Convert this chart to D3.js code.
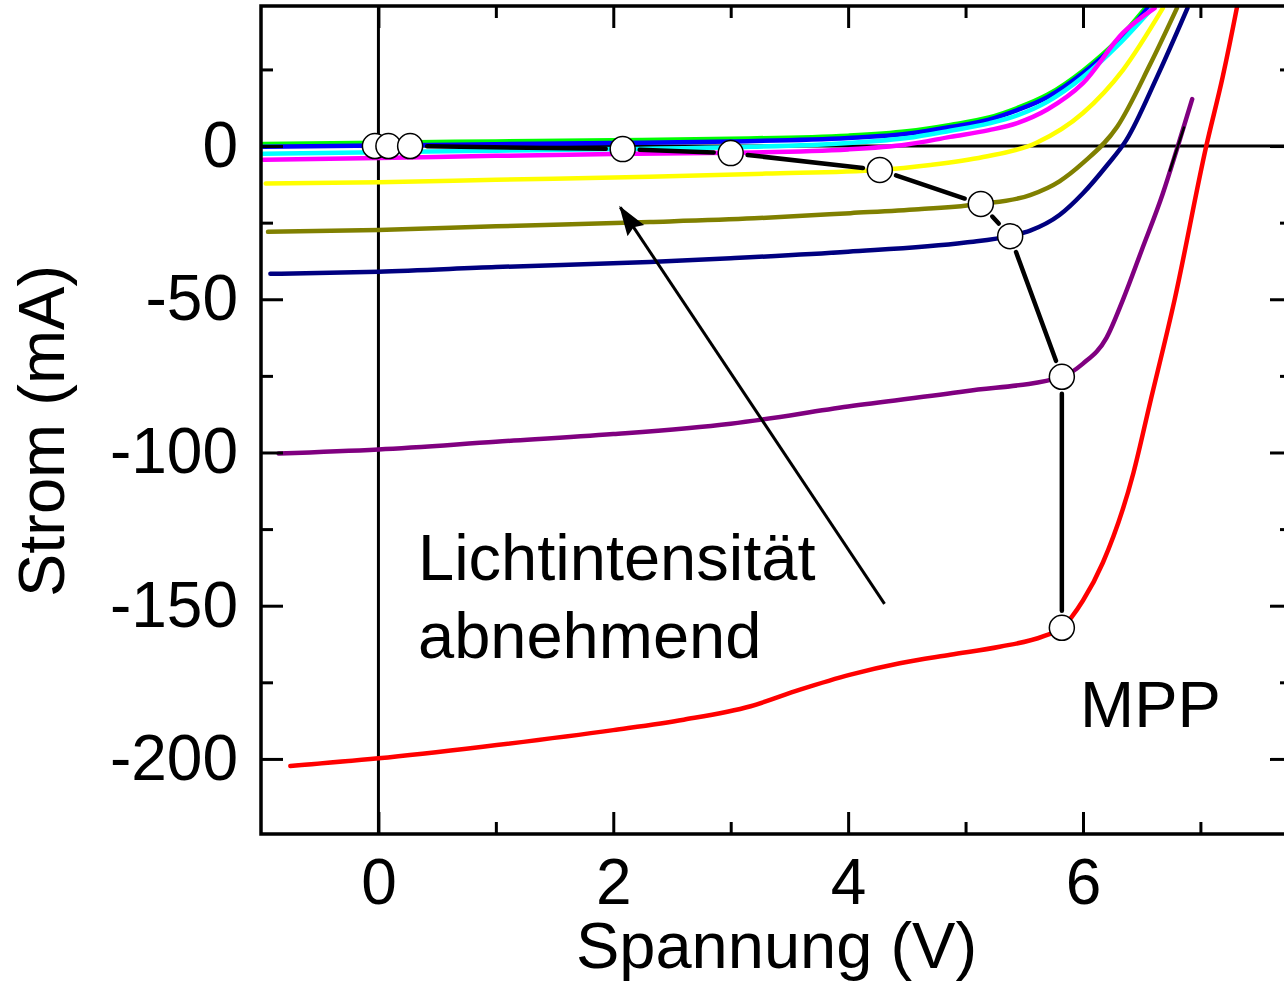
<!DOCTYPE html>
<html>
<head>
<meta charset="utf-8">
<script src="https://cdn.jsdelivr.net/npm/d3@7"></script>
<style>
  body { margin: 0; background: #fff; }
  svg { display: block; font-family: Arial, "Liberation Sans", sans-serif; }
</style>
</head>
<body>
<svg id="chart" width="1284" height="984"></svg>
<script>
// Kennlinien [Spannung V, Strom mA]
const gruen = [[-0.98,0.7],[0,1.1],[1,1.5],[2,1.9],[3,2.4],[4,3.4],[4.5,4.8],[4.87,6.9],[5.2,9.3],[5.44,12.4],[5.7,16.8],[6.0,24.6],[6.29,34.4],[6.53,45]];
const blau = [[-0.98,-0.2],[0,0.2],[1,0.6],[2,1.0],[3,1.5],[4,2.6],[4.5,4.0],[4.87,6.2],[5.2,8.6],[5.44,11.7],[5.7,16.0],[6.0,23.8],[6.29,33.6],[6.55,45]];
const cyan = [[-0.98,-2.5],[0,-2.0],[1,-1.5],[2,-1.0],[3,-0.4],[4,1.0],[4.5,2.6],[4.87,5.0],[5.2,7.4],[5.44,10.0],[5.7,14.5],[6.0,22.5],[6.3,33.0],[6.59,45]];
const magenta = [[-0.98,-4.5],[0,-3.9],[1,-3.2],[2,-2.6],[3,-2.2],[4,-1.1],[4.5,0.5],[4.87,3.0],[5.2,5.2],[5.44,7.5],[5.7,12.0],[6.0,20.5],[6.34,36.9],[6.61,45]];
const gelb = [[-0.96,-12.2],[0,-11.8],[1,-11.0],[2.31,-10.0],[3.3,-9.0],[4.27,-7.8],[4.7,-6.2],[5.15,-3.6],[5.6,1.0],[6.0,10.8],[6.34,24.8],[6.68,45]];
const oliv = [[-0.94,-28.0],[0,-27.4],[1,-26.2],[2.31,-24.8],[3.2,-23.6],[4.02,-21.9],[4.6,-20.6],[5.13,-18.9],[5.55,-16.0],[5.8,-11.5],[6.0,-5.5],[6.29,6.2],[6.57,26.5],[6.8,45]];
const navy = [[-0.92,-41.7],[0,-41.0],[1,-39.5],[2.31,-37.8],[3,-36.6],[4,-34.5],[5,-31.5],[5.38,-29.4],[5.55,-27.6],[5.8,-22.5],[6.0,-15.4],[6.2,-6.5],[6.37,2.0],[6.63,22.5],[6.89,45]];
const lila = [[-0.85,-100.3],[0,-99.0],[1,-96.5],[2,-94.0],[3,-90.6],[4,-85.0],[5,-80.0],[5.82,-75.3],[6.0,-71.0],[6.2,-62.6],[6.34,-50.2],[6.5,-34.0],[6.68,-15.5],[6.8,-1.0],[6.93,15.3]];
const schwarz = [[6.74,-8.0],[6.80,-1.0],[6.86,6.0]];
const rot = [[-0.75,-202.3],[0,-199.8],[0.89,-196.0],[2,-190.6],[2.6,-187.2],[3.17,-182.8],[3.59,-177.4],[4.02,-172.5],[4.44,-168.8],[4.87,-166.0],[5.29,-163.4],[5.66,-160.0],[5.82,-157.2],[6.0,-148.3],[6.17,-135.9],[6.43,-106.6],[6.57,-84.0],[6.78,-50.2],[7.05,0],[7.19,22.6],[7.31,45],[7.36,55]];

const kurven = [gruen, blau, cyan, magenta, gelb, oliv, navy, lila, schwarz, rot];
const farben = ["#00ff00", "#0000ff", "#00ffff", "#ff00ff", "#ffff00", "#808000", "#000080", "#800080", "#000000", "#ff0000"];

// Maximum Power Points
const mppU = [-0.03, 0.085, 0.27, 2.08, 3.0, 4.27, 5.13, 5.38, 5.82, 5.82];
const mppI = [0, 0, 0, -1.0, -2.3, -7.8, -18.9, -29.4, -75.3, -157.2];

const xTicks = [0, 2, 4, 6];
const xMinor = [1, 3, 5, 7];
const yTicks = [0, -50, -100, -150, -200];
const yMinor = [25, -25, -75, -125, -175];

// Pfeil "Lichtintensität abnehmend"
const pfeil = [[4.31, -149.4], [2.06, -20.0]];

const mLeft = 261, mTop = 6, mRight = 1292, mBottom = 834;
const x = d3.scaleLinear().domain([-1, 7.78]).range([mLeft, mRight]);
const y = d3.scaleLinear().domain([-224.5, 45.7]).range([mBottom, mTop]);

const svg = d3.select("#chart");

const defs = svg.append("defs");
defs.append("clipPath").attr("id", "plot")
  .append("rect").attr("x", mLeft).attr("y", mTop)
  .attr("width", mRight - mLeft).attr("height", mBottom - mTop);

defs.append("marker")
  .attr("id", "spitze")
  .attr("markerUnits", "userSpaceOnUse")
  .attr("viewBox", "0 0 30 22")
  .attr("refX", 28).attr("refY", 11)
  .attr("markerWidth", 30).attr("markerHeight", 22)
  .attr("orient", "auto")
  .append("path").attr("d", "M0,1 L30,11 L0,21 L4,11 Z").attr("fill", "#000");

const plot = svg.append("g").attr("clip-path", "url(#plot)");

// Nulllinien
plot.append("line")
  .attr("x1", mLeft).attr("x2", mRight).attr("y1", y(0)).attr("y2", y(0))
  .attr("stroke", "#000").attr("stroke-width", 3);
plot.append("line")
  .attr("x1", x(0)).attr("x2", x(0)).attr("y1", mTop).attr("y2", mBottom)
  .attr("stroke", "#000").attr("stroke-width", 3);

const line = d3.line()
  .x(d => x(d[0]))
  .y(d => y(d[1]))
  .curve(d3.curveMonotoneX);

plot.selectAll("path.kurve")
  .data(kurven)
  .join("path")
  .attr("class", "kurve")
  .attr("d", line)
  .attr("fill", "none")
  .attr("stroke", (d, i) => farben[i])
  .attr("stroke-width", (d, i) => farben[i] === "#000000" ? 2.5 : 4.5)
  .attr("stroke-linecap", "round")
  .attr("stroke-linejoin", "round");

// MPP-Verbindung, mit Abstand zu den Kreisen
const r = 12.5, luecke = 17;
const mppPx = mppU.map((u, i) => [x(u), y(mppI[i])]);
for (let i = 0; i < mppPx.length - 1; i++) {
  const a = mppPx[i], b = mppPx[i + 1];
  const dx = b[0] - a[0], dy = b[1] - a[1];
  const len = Math.hypot(dx, dy);
  if (len <= 2 * luecke + 2) continue;
  const ux = dx / len, uy = dy / len;
  plot.append("line")
    .attr("x1", a[0] + ux * luecke).attr("y1", a[1] + uy * luecke)
    .attr("x2", b[0] - ux * luecke).attr("y2", b[1] - uy * luecke)
    .attr("stroke", "#000").attr("stroke-width", 4.5)
    .attr("stroke-linecap", "round");
}

plot.selectAll("circle.mpp")
  .data(mppU)
  .join("circle")
  .attr("class", "mpp")
  .attr("cx", d => x(d))
  .attr("cy", (d, i) => y(mppI[i]))
  .attr("r", r)
  .attr("fill", "#fff")
  .attr("stroke", "#000")
  .attr("stroke-width", 1.5);

// Pfeil
svg.append("line")
  .attr("x1", x(pfeil[0][0])).attr("y1", y(pfeil[0][1]))
  .attr("x2", x(pfeil[1][0])).attr("y2", y(pfeil[1][1]))
  .attr("stroke", "#000").attr("stroke-width", 3)
  .attr("marker-end", "url(#spitze)");

// Beschriftungen
const txt = svg.append("g").attr("font-size", 65).attr("fill", "#000");
txt.append("text").attr("x", 418).attr("y", 580).text("Lichtintensität");
txt.append("text").attr("x", 418).attr("y", 658).text("abnehmend");
txt.append("text").attr("x", 1080).attr("y", 727).text("MPP");

// Achsen
const fmt = d => String(d);
function styleAxis(g) {
  g.attr("font-family", null).attr("font-size", 64);
  g.select(".domain").remove();
  g.selectAll(".tick line").attr("stroke", "#000").attr("stroke-width", 3);
  g.selectAll(".tick text").attr("fill", "#000");
}

svg.append("g").attr("transform", `translate(0,${mBottom})`)
  .call(d3.axisBottom(x).tickValues(xTicks).tickSize(-22).tickPadding(25).tickFormat(fmt))
  .call(styleAxis);
svg.append("g").attr("transform", `translate(0,${mBottom})`)
  .call(d3.axisBottom(x).tickValues(xMinor).tickSize(-12).tickFormat(""))
  .call(styleAxis);
svg.append("g").attr("transform", `translate(0,${mTop})`)
  .call(d3.axisTop(x).tickValues(xTicks).tickSize(-22).tickFormat(""))
  .call(styleAxis);
svg.append("g").attr("transform", `translate(0,${mTop})`)
  .call(d3.axisTop(x).tickValues(xMinor).tickSize(-12).tickFormat(""))
  .call(styleAxis);

svg.append("g").attr("transform", `translate(${mLeft},0)`)
  .call(d3.axisLeft(y).tickValues(yTicks).tickSize(-22).tickPadding(23).tickFormat(fmt))
  .call(styleAxis);
svg.append("g").attr("transform", `translate(${mLeft},0)`)
  .call(d3.axisLeft(y).tickValues(yMinor).tickSize(-12).tickFormat(""))
  .call(styleAxis);
svg.append("g").attr("transform", `translate(${mRight},0)`)
  .call(d3.axisRight(y).tickValues(yTicks).tickSize(-22).tickFormat(""))
  .call(styleAxis);
svg.append("g").attr("transform", `translate(${mRight},0)`)
  .call(d3.axisRight(y).tickValues(yMinor).tickSize(-12).tickFormat(""))
  .call(styleAxis);

// Rahmen
svg.append("rect")
  .attr("x", mLeft).attr("y", mTop)
  .attr("width", mRight - mLeft).attr("height", mBottom - mTop)
  .attr("fill", "none").attr("stroke", "#000").attr("stroke-width", 3.5);

// Achsentitel
svg.append("text")
  .attr("x", (mLeft + mRight) / 2).attr("y", 968)
  .attr("text-anchor", "middle").attr("font-size", 65)
  .text("Spannung (V)");
svg.append("text")
  .attr("transform", `translate(64,${(mTop + mBottom) / 2 + 11}) rotate(-90)`)
  .attr("text-anchor", "middle").attr("font-size", 65)
  .text("Strom (mA)");
</script>
</body>
</html>
